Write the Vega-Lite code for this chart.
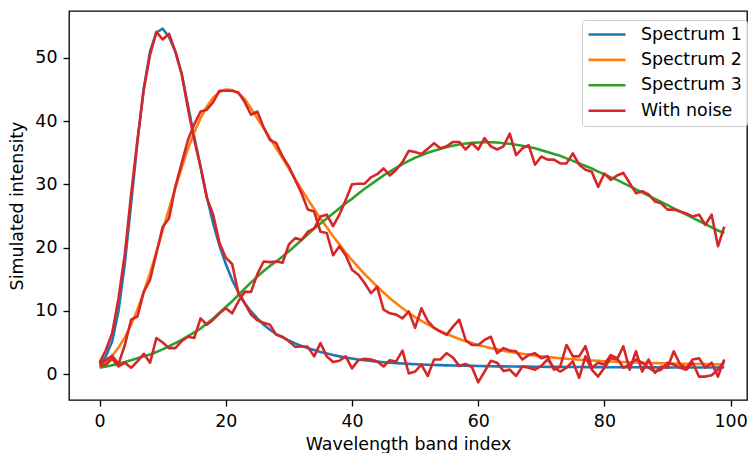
{
  "$schema": "https://vega.github.io/schema/vega-lite/v6.json",
  "width": 678,
  "height": 389,
  "autosize": {"type": "none"},
  "padding": {"left": 69, "top": 11, "right": 3, "bottom": 53},
  "background": "white",
  "config": {
    "view": {"stroke": "black", "strokeWidth": 1.3},
    "font": "DejaVu Sans",
    "axis": {
      "domain": false, "grid": false, "tickColor": "black", "tickWidth": 1.3, "tickSize": 6,
      "labelColor": "black", "labelFontSize": 17.4, "labelPadding": 6, "labelFlush": false, "labelOverlap": false,
      "titleFontSize": 17.4, "titleFontWeight": "normal", "titleColor": "black",
      "labelFont": "DejaVu Sans", "titleFont": "DejaVu Sans"
    }
  },
  "data": {"values": [
    {"i":0,"s1":1.5,"s2":1.3,"s3":1.0,"n1":1.8,"n2":1.6,"n3":1.3},
    {"i":1,"s1":2.8,"s2":2.0,"s3":1.2,"n1":3.8,"n2":2.2,"n3":1.5},
    {"i":2,"s1":5.2,"s2":2.9,"s3":1.4,"n1":6.5,"n2":2.9,"n3":2.4},
    {"i":3,"s1":10.0,"s2":4.2,"s3":1.65,"n1":12.0,"n2":1.6,"n3":1.2},
    {"i":4,"s1":17.5,"s2":5.8,"s3":1.9,"n1":19.0,"n2":4.6,"n3":1.8},
    {"i":5,"s1":27.0,"s2":7.8,"s3":2.2,"n1":28.5,"n2":8.6,"n3":1.0},
    {"i":6,"s1":36.8,"s2":10.2,"s3":2.5,"n1":37.0,"n2":9.1,"n3":2.0},
    {"i":7,"s1":45.2,"s2":13.0,"s3":2.8,"n1":45.0,"n2":13.0,"n3":3.2},
    {"i":8,"s1":51.0,"s2":16.0,"s3":3.1,"n1":50.5,"n2":14.9,"n3":1.8},
    {"i":9,"s1":54.0,"s2":19.3,"s3":3.5,"n1":54.1,"n2":19.1,"n3":5.7},
    {"i":10,"s1":54.6,"s2":22.7,"s3":3.9,"n1":52.9,"n2":23.3,"n3":5.0},
    {"i":11,"s1":53.3,"s2":26.1,"s3":4.4,"n1":53.8,"n2":24.6,"n3":4.1},
    {"i":12,"s1":51.0,"s2":29.4,"s3":4.9,"n1":51.0,"n2":29.6,"n3":4.1},
    {"i":13,"s1":47.5,"s2":32.6,"s3":5.4,"n1":47.5,"n2":33.3,"n3":5.2},
    {"i":14,"s1":42.5,"s2":35.6,"s3":6.0,"n1":42.0,"n2":37.0,"n3":5.9},
    {"i":15,"s1":37.5,"s2":38.2,"s3":6.6,"n1":37.0,"n2":39.5,"n3":5.7},
    {"i":16,"s1":32.7,"s2":40.5,"s3":7.2,"n1":32.8,"n2":41.5,"n3":8.8},
    {"i":17,"s1":28.0,"s2":42.3,"s3":8.0,"n1":27.8,"n2":41.8,"n3":7.8},
    {"i":18,"s1":23.8,"s2":43.7,"s3":8.8,"n1":25.2,"n2":43.0,"n3":8.6},
    {"i":19,"s1":20.3,"s2":44.6,"s3":9.7,"n1":20.7,"n2":44.8,"n3":9.6},
    {"i":20,"s1":17.4,"s2":45.0,"s3":10.6,"n1":18.4,"n2":44.8,"n3":10.4},
    {"i":21,"s1":14.9,"s2":44.9,"s3":11.5,"n1":17.4,"n2":44.8,"n3":9.6},
    {"i":22,"s1":12.9,"s2":44.4,"s3":12.5,"n1":12.8,"n2":44.5,"n3":11.5},
    {"i":23,"s1":11.2,"s2":43.5,"s3":13.5,"n1":11.2,"n2":43.0,"n3":13.0},
    {"i":24,"s1":9.9,"s2":42.0,"s3":14.5,"n1":9.4,"n2":41.0,"n3":13.0},
    {"i":25,"s1":8.8,"s2":40.4,"s3":15.4,"n1":8.5,"n2":41.5,"n3":15.8},
    {"i":26,"s1":7.8,"s2":38.9,"s3":16.3,"n1":8.1,"n2":39.0,"n3":17.8},
    {"i":27,"s1":7.0,"s2":37.3,"s3":17.1,"n1":7.8,"n2":37.0,"n3":17.7},
    {"i":28,"s1":6.3,"s2":35.7,"s3":17.8,"n1":6.2,"n2":36.5,"n3":17.8},
    {"i":29,"s1":5.8,"s2":34.1,"s3":18.6,"n1":5.9,"n2":34.4,"n3":17.6},
    {"i":30,"s1":5.3,"s2":32.5,"s3":19.4,"n1":5.2,"n2":32.8,"n3":20.5},
    {"i":31,"s1":4.85,"s2":30.8,"s3":20.3,"n1":4.3,"n2":30.7,"n3":21.5},
    {"i":32,"s1":4.45,"s2":29.2,"s3":21.2,"n1":4.4,"n2":28.6,"n3":21.2},
    {"i":33,"s1":4.1,"s2":27.6,"s3":22.1,"n1":4.3,"n2":26.0,"n3":22.5},
    {"i":34,"s1":3.8,"s2":26.1,"s3":23.0,"n1":2.8,"n2":25.7,"n3":23.0},
    {"i":35,"s1":3.5,"s2":24.6,"s3":23.8,"n1":4.9,"n2":22.5,"n3":24.9},
    {"i":36,"s1":3.25,"s2":23.2,"s3":24.6,"n1":2.8,"n2":22.3,"n3":25.2},
    {"i":37,"s1":3.0,"s2":21.8,"s3":25.4,"n1":1.9,"n2":18.8,"n3":23.4},
    {"i":38,"s1":2.8,"s2":20.5,"s3":26.2,"n1":2.1,"n2":20.2,"n3":25.2},
    {"i":39,"s1":2.6,"s2":19.2,"s3":27.0,"n1":2.8,"n2":18.8,"n3":27.5},
    {"i":40,"s1":2.45,"s2":18.0,"s3":27.7,"n1":0.9,"n2":16.5,"n3":30.0},
    {"i":41,"s1":2.3,"s2":16.9,"s3":28.5,"n1":2.2,"n2":15.7,"n3":30.1},
    {"i":42,"s1":2.18,"s2":15.8,"s3":29.3,"n1":2.4,"n2":14.4,"n3":30.1},
    {"i":43,"s1":2.07,"s2":14.8,"s3":30.0,"n1":2.3,"n2":12.8,"n3":31.1},
    {"i":44,"s1":1.97,"s2":13.8,"s3":30.7,"n1":2.0,"n2":13.8,"n3":31.6},
    {"i":45,"s1":1.88,"s2":12.9,"s3":31.4,"n1":1.2,"n2":10.2,"n3":32.5},
    {"i":46,"s1":1.8,"s2":12.0,"s3":32.0,"n1":2.2,"n2":9.6,"n3":31.4},
    {"i":47,"s1":1.73,"s2":11.2,"s3":32.6,"n1":2.0,"n2":9.4,"n3":32.3},
    {"i":48,"s1":1.67,"s2":10.4,"s3":33.2,"n1":3.7,"n2":8.8,"n3":33.5},
    {"i":49,"s1":1.61,"s2":9.7,"s3":33.7,"n1":0.1,"n2":9.9,"n3":35.3},
    {"i":50,"s1":1.56,"s2":9.0,"s3":34.2,"n1":0.4,"n2":7.3,"n3":35.1},
    {"i":51,"s1":1.52,"s2":8.4,"s3":34.6,"n1":1.5,"n2":10.4,"n3":34.8},
    {"i":52,"s1":1.48,"s2":7.85,"s3":35.0,"n1":-0.3,"n2":8.4,"n3":35.6},
    {"i":53,"s1":1.44,"s2":7.3,"s3":35.3,"n1":2.3,"n2":7.3,"n3":36.5},
    {"i":54,"s1":1.41,"s2":6.8,"s3":35.6,"n1":2.3,"n2":6.7,"n3":35.7},
    {"i":55,"s1":1.38,"s2":6.35,"s3":35.9,"n1":3.3,"n2":6.2,"n3":36.0},
    {"i":56,"s1":1.35,"s2":5.95,"s3":36.1,"n1":2.6,"n2":7.5,"n3":36.7},
    {"i":57,"s1":1.33,"s2":5.55,"s3":36.3,"n1":1.3,"n2":8.6,"n3":36.7},
    {"i":58,"s1":1.31,"s2":5.2,"s3":36.45,"n1":1.6,"n2":5.4,"n3":35.5},
    {"i":59,"s1":1.29,"s2":4.9,"s3":36.55,"n1":1.1,"n2":4.6,"n3":36.5},
    {"i":60,"s1":1.27,"s2":4.6,"s3":36.6,"n1":-1.3,"n2":4.6,"n3":35.5},
    {"i":61,"s1":1.25,"s2":4.35,"s3":36.65,"n1":0.4,"n2":5.4,"n3":37.3},
    {"i":62,"s1":1.24,"s2":4.1,"s3":36.65,"n1":2.1,"n2":5.9,"n3":36.0},
    {"i":63,"s1":1.22,"s2":3.9,"s3":36.6,"n1":1.8,"n2":3.3,"n3":35.5},
    {"i":64,"s1":1.21,"s2":3.7,"s3":36.5,"n1":0.5,"n2":4.1,"n3":36.0},
    {"i":65,"s1":1.2,"s2":3.5,"s3":36.4,"n1":0.7,"n2":3.7,"n3":38.0},
    {"i":66,"s1":1.19,"s2":3.35,"s3":36.25,"n1":-0.3,"n2":3.6,"n3":34.6},
    {"i":67,"s1":1.18,"s2":3.2,"s3":36.1,"n1":1.2,"n2":2.3,"n3":35.7},
    {"i":68,"s1":1.17,"s2":3.05,"s3":35.9,"n1":1.0,"n2":3.0,"n3":36.2},
    {"i":69,"s1":1.16,"s2":2.92,"s3":35.7,"n1":0.7,"n2":3.3,"n3":33.1},
    {"i":70,"s1":1.15,"s2":2.8,"s3":35.4,"n1":1.3,"n2":2.5,"n3":34.4},
    {"i":71,"s1":1.14,"s2":2.7,"s3":35.1,"n1":2.3,"n2":2.8,"n3":33.9},
    {"i":72,"s1":1.13,"s2":2.6,"s3":34.8,"n1":1.0,"n2":0.7,"n3":33.9},
    {"i":73,"s1":1.13,"s2":2.5,"s3":34.5,"n1":0.4,"n2":1.2,"n3":33.3},
    {"i":74,"s1":1.12,"s2":2.42,"s3":34.1,"n1":1.0,"n2":4.6,"n3":33.3},
    {"i":75,"s1":1.11,"s2":2.34,"s3":33.7,"n1":2.0,"n2":2.8,"n3":34.9},
    {"i":76,"s1":1.11,"s2":2.27,"s3":33.3,"n1":-0.6,"n2":2.8,"n3":33.1},
    {"i":77,"s1":1.1,"s2":2.2,"s3":32.9,"n1":2.8,"n2":4.4,"n3":32.3},
    {"i":78,"s1":1.1,"s2":2.14,"s3":32.5,"n1":0.7,"n2":1.0,"n3":32.0},
    {"i":79,"s1":1.09,"s2":2.08,"s3":32.0,"n1":-0.4,"n2":1.8,"n3":29.6},
    {"i":80,"s1":1.09,"s2":2.03,"s3":31.6,"n1":1.0,"n2":1.5,"n3":31.7},
    {"i":81,"s1":1.08,"s2":1.98,"s3":31.1,"n1":2.5,"n2":3.0,"n3":30.7},
    {"i":82,"s1":1.08,"s2":1.94,"s3":30.7,"n1":2.3,"n2":2.5,"n3":31.4},
    {"i":83,"s1":1.07,"s2":1.9,"s3":30.2,"n1":4.4,"n2":1.0,"n3":31.8},
    {"i":84,"s1":1.07,"s2":1.86,"s3":29.7,"n1":0.7,"n2":1.5,"n3":30.2},
    {"i":85,"s1":1.07,"s2":1.82,"s3":29.2,"n1":3.6,"n2":2.3,"n3":28.6},
    {"i":86,"s1":1.06,"s2":1.79,"s3":28.7,"n1":0.4,"n2":1.8,"n3":28.9},
    {"i":87,"s1":1.06,"s2":1.76,"s3":28.2,"n1":2.3,"n2":1.0,"n3":28.4},
    {"i":88,"s1":1.06,"s2":1.73,"s3":27.7,"n1":0.2,"n2":0.4,"n3":27.3},
    {"i":89,"s1":1.05,"s2":1.7,"s3":27.2,"n1":1.2,"n2":0.7,"n3":27.0},
    {"i":90,"s1":1.05,"s2":1.68,"s3":26.7,"n1":1.0,"n2":1.8,"n3":26.0},
    {"i":91,"s1":1.05,"s2":1.66,"s3":26.2,"n1":3.6,"n2":1.5,"n3":26.0},
    {"i":92,"s1":1.05,"s2":1.64,"s3":25.7,"n1":1.5,"n2":1.0,"n3":25.7},
    {"i":93,"s1":1.04,"s2":1.62,"s3":25.2,"n1":1.0,"n2":0.7,"n3":25.4},
    {"i":94,"s1":1.04,"s2":1.6,"s3":24.7,"n1":2.3,"n2":1.8,"n3":24.9},
    {"i":95,"s1":1.04,"s2":1.58,"s3":24.2,"n1":2.5,"n2":-0.4,"n3":25.2},
    {"i":96,"s1":1.04,"s2":1.57,"s3":23.7,"n1":1.0,"n2":-0.4,"n3":23.6},
    {"i":97,"s1":1.03,"s2":1.55,"s3":23.2,"n1":1.8,"n2":-0.2,"n3":25.2},
    {"i":98,"s1":1.03,"s2":1.54,"s3":22.7,"n1":-0.4,"n2":0.7,"n3":20.2},
    {"i":99,"s1":1.03,"s2":1.52,"s3":22.3,"n1":2.3,"n2":2.0,"n3":23.3}
  ]},
  "layer": [
    {
      "transform": [{"fold": ["s1", "s2", "s3"], "as": ["series", "v"]}],
      "mark": {"type": "line", "strokeWidth": 2.6, "strokeJoin": "round"},
      "encoding": {
        "x": {"field": "i", "type": "quantitative",
          "scale": {"domain": [-4.85, 102.6], "nice": false, "zero": false},
          "axis": {"values": [0, 20, 40, 60, 80, 100], "title": "Wavelength band index", "titlePadding": 6}},
        "y": {"field": "v", "type": "quantitative",
          "scale": {"domain": [-4.1, 57.4], "nice": false, "zero": false},
          "axis": {"values": [0, 10, 20, 30, 40, 50], "title": "Simulated intensity", "titlePadding": 8}},
        "color": {"field": "series", "type": "nominal",
          "scale": {"domain": ["s1", "s2", "s3", "noise"], "range": ["#1f77b4", "#ff7f0e", "#2ca02c", "#d62728"]},
          "legend": {
            "orient": "none", "legendX": 513, "legendY": 9, "title": null,
            "labelExpr": "{'s1': 'Spectrum 1', 's2': 'Spectrum 2', 's3': 'Spectrum 3', 'noise': 'With noise'}[datum.label]",
            "labelFontSize": 17.4, "labelColor": "black", "labelFont": "DejaVu Sans", "labelLimit": 300,
            "symbolType": "stroke", "symbolSize": 1369, "symbolStrokeWidth": 2.6,
            "padding": 5, "rowPadding": 6.4, "clipHeight": 19, "labelOffset": 14,
            "fillColor": "rgba(255,255,255,0.8)", "strokeColor": "#cccccc", "cornerRadius": 3
          }}
      }
    },
    {
      "transform": [{"fold": ["n1", "n2", "n3"], "as": ["line", "v"]}],
      "mark": {"type": "line", "strokeWidth": 2.6, "strokeJoin": "round"},
      "encoding": {
        "x": {"field": "i", "type": "quantitative"},
        "y": {"field": "v", "type": "quantitative"},
        "color": {"datum": "noise", "type": "nominal"},
        "detail": {"field": "line", "type": "nominal"}
      }
    }
  ]
}
